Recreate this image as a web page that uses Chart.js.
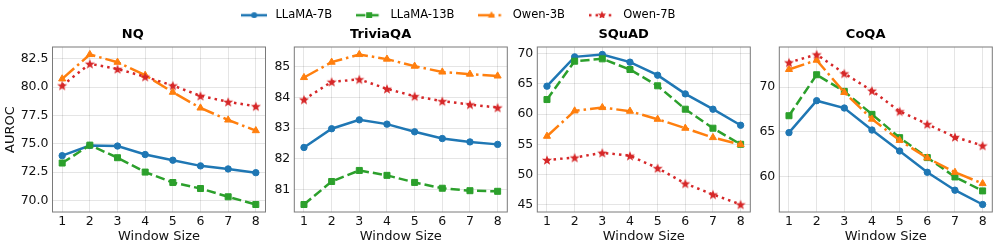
<!DOCTYPE html>
<html>
<head>
<meta charset="utf-8">
<script src="https://cdn.jsdelivr.net/npm/chart.js@4.4.0/dist/chart.umd.min.js"></script>
<style>
    html, body { margin: 0; padding: 0; background: #fff; }
    #wrap { position: relative; width: 996px; height: 248px; overflow: hidden; }
    #wrap canvas { position: absolute; }
</style>
</head>
<body>
<div id="wrap">
    <canvas id="legend" width="500" height="60"></canvas>
    <canvas id="chart1"></canvas>
    <canvas id="chart2"></canvas>
    <canvas id="chart3"></canvas>
    <canvas id="chart4"></canvas>
</div>
<script>
// ---------------- Dados ----------------
const windowSizes = [1, 2, 3, 4, 5, 6, 7, 8];
const seriesNames = ['LLaMA-7B', 'LLaMA-13B', 'Qwen-3B', 'Qwen-7B'];
const panelTitles = ['NQ', 'TriviaQA', 'SQuAD', 'CoQA'];

// NQ
const nqLlama7b  = [73.95, 74.85, 74.80, 74.05, 73.55, 73.05, 72.78, 72.45];
const nqLlama13b = [73.30, 74.88, 73.77, 72.50, 71.58, 71.05, 70.32, 69.64];
const nqQwen3b   = [80.73, 82.88, 82.20, 81.05, 79.55, 78.16, 77.10, 76.16];
const nqQwen7b   = [80.14, 82.06, 81.60, 80.92, 80.14, 79.23, 78.70, 78.31];

// TriviaQA
const tqLlama7b  = [82.37, 82.98, 83.27, 83.13, 82.88, 82.66, 82.55, 82.47];
const tqLlama13b = [80.51, 81.26, 81.62, 81.46, 81.23, 81.04, 80.96, 80.94];
const tqQwen3b   = [84.65, 85.15, 85.40, 85.25, 85.02, 84.83, 84.76, 84.70];
const tqQwen7b   = [83.93, 84.51, 84.59, 84.28, 84.04, 83.88, 83.77, 83.67];

// SQuAD
const sqLlama7b  = [64.64, 69.50, 69.89, 68.62, 66.46, 63.36, 60.82, 58.16];
const sqLlama13b = [62.42, 68.78, 69.17, 67.40, 64.70, 60.82, 57.67, 55.00];
const sqQwen3b   = [56.34, 60.54, 61.10, 60.49, 59.16, 57.67, 56.12, 54.96];
const sqQwen7b   = [52.40, 52.80, 53.60, 53.10, 51.05, 48.50, 46.68, 45.02];

// CoQA
const cqLlama7b  = [64.91, 68.48, 67.66, 65.20, 62.86, 60.48, 58.48, 56.88];
const cqLlama13b = [66.80, 71.38, 69.52, 66.95, 64.35, 62.12, 59.96, 58.40];
const cqQwen3b   = [71.97, 73.01, 69.40, 66.42, 64.05, 62.08, 60.48, 59.22];
const cqQwen7b   = [72.75, 73.64, 71.52, 69.59, 67.29, 65.86, 64.42, 63.46];

// Ticks do eixo y
const nqTicks = [70, 72.5, 75, 77.5, 80, 82.5];
const tqTicks = [81, 82, 83, 84, 85];
const sqTicks = [45, 50, 55, 60, 65, 70];
const cqTicks = [60, 65, 70];
const yDecimals = [1, 0, 0, 0];

const panelSeries = [
    [nqLlama7b, nqLlama13b, nqQwen3b, nqQwen7b],
    [tqLlama7b, tqLlama13b, tqQwen3b, tqQwen7b],
    [sqLlama7b, sqLlama13b, sqQwen3b, sqQwen7b],
    [cqLlama7b, cqLlama13b, cqQwen3b, cqQwen7b],
];
const panelTicks = [nqTicks, tqTicks, sqTicks, cqTicks];
//-----------------------------------------

// ---------------- Estilos ----------------
const colors = ['#1f77b4', '#2ca02c', '#ff7f0e', '#d62728'];
const dashes = [[], [9.25, 4], [16, 4, 2.5, 4], [2.5, 4.1]];
const markers = ['circle', 'rect', 'triangle', 'star'];
const pointRadii = [3.2, 4.25, 4.1, 4.5];

const plotLefts = [52.5, 294.3, 537.3, 779.3];
const canvasLefts = [0, 254, 497, 739];
const plotWidth = 213;

Chart.defaults.font.family = "'DejaVu Sans', sans-serif";
Chart.defaults.color = '#111';

// Desenha um marcador pequeno (usado na legenda e na estrela)
function drawMarker(g, kind, x, y, color, scale) {
    const k0 = scale || 1;
    g.fillStyle = color;
    g.beginPath();
    if (kind === 'circle') {
        g.arc(x, y, 3 * k0, 0, Math.PI * 2);
    } else if (kind === 'rect') {
        g.rect(x - 3 * k0, y - 3 * k0, 6 * k0, 6 * k0);
    } else if (kind === 'triangle') {
        g.moveTo(x, y - 4 * k0);
        g.lineTo(x + 3.6 * k0, y + 2.5 * k0);
        g.lineTo(x - 3.6 * k0, y + 2.5 * k0);
    } else {
        for (let k = 0; k < 10; k++) {
            const r = (k % 2 ? 1.9 : 4.6) * k0;
            const a = -Math.PI / 2 + k * Math.PI / 5;
            g.lineTo(x + r * Math.cos(a), y + r * Math.sin(a));
        }
    }
    g.closePath();
    g.fill();
}

function makeStar(color) {
    const c = document.createElement('canvas');
    c.width = 12; c.height = 12;
    drawMarker(c.getContext('2d'), 'star', 6, 6.5, color, 1.15);
    return c;
}

function makeSample(i) {
    const c = document.createElement('canvas');
    c.width = 26; c.height = 12;
    const g = c.getContext('2d');
    g.strokeStyle = colors[i];
    g.lineWidth = 2.5;
    g.setLineDash(dashes[i]);
    g.beginPath();
    g.moveTo(0, 6);
    g.lineTo(26, 6);
    g.stroke();
    g.setLineDash([]);
    drawMarker(g, markers[i], 13, 6, colors[i]);
    return c;
}

const starImg = makeStar(colors[3]);
const pointStyles = ['circle', 'rect', 'triangle', starImg];

// Moldura cinza em volta da área do gráfico
const framePlugin = {
    id: 'frame',
    afterDraw(chart) {
        const { ctx, chartArea: a } = chart;
        ctx.save();
        ctx.strokeStyle = '#7a7a7a';
        ctx.lineWidth = 1;
        ctx.strokeRect(a.left, a.top, a.right - a.left, a.bottom - a.top);
        ctx.restore();
    }
};

// ---------------- Legenda ----------------
const legendCanvas = document.getElementById('legend');
legendCanvas.style.left = '207px';
legendCanvas.style.top = '-12px';
const legendImgs = seriesNames.map((n, i) => makeSample(i));

new Chart(legendCanvas, {
    type: 'line',
    data: { datasets: seriesNames.map((n, i) => ({ label: n, data: [] })) },
    options: {
        responsive: false,
        animation: false,
        events: [],
        scales: { x: { display: false }, y: { display: false } },
        plugins: {
            tooltip: { enabled: false },
            legend: {
                position: 'top',
                labels: {
                    usePointStyle: true,
                    pointStyleWidth: 31,
                    padding: 21.5,
                    font: { size: 11.5 },
                    generateLabels: () => seriesNames.map((n, i) => ({
                        text: n,
                        pointStyle: legendImgs[i],
                        fillStyle: colors[i],
                        strokeStyle: colors[i],
                        lineWidth: 0,
                        hidden: false,
                        datasetIndex: i
                    }))
                }
            }
        }
    }
});

// ---------------- Painéis ----------------
panelTitles.forEach(function (title, p) {
    const canvas = document.getElementById('chart' + (p + 1));
    const yw = plotLefts[p] - canvasLefts[p];
    canvas.width = Math.ceil(yw + plotWidth + 5);
    canvas.height = 224;
    canvas.style.left = canvasLefts[p] + 'px';
    canvas.style.top = '24px';

    const series = panelSeries[p];
    const all = series.flat();
    const lo = Math.min(...all), hi = Math.max(...all);
    const margin = (hi - lo) * 0.05;

    new Chart(canvas, {
        type: 'line',
        data: {
            datasets: series.map((vals, s) => ({
                label: seriesNames[s],
                data: windowSizes.map((w, k) => ({ x: w, y: vals[k] })),
                borderColor: colors[s],
                backgroundColor: colors[s],
                borderWidth: 2.5,
                borderDash: dashes[s],
                pointStyle: pointStyles[s],
                pointRadius: pointRadii[s],
                pointBorderWidth: 1,
                pointBorderColor: colors[s],
                pointBackgroundColor: colors[s],
                order: 3 - s,
                fill: false
            }))
        },
        options: {
            responsive: false,
            animation: false,
            events: [],
            layout: { padding: { top: 0, right: canvas.width - yw - plotWidth, bottom: 0, left: 0 } },
            scales: {
                x: {
                    type: 'linear',
                    min: 0.65,
                    max: 8.35,
                    afterBuildTicks: axis => { axis.ticks = windowSizes.map(v => ({ value: v })); },
                    afterFit: axis => { axis.height = 36; },
                    grid: { color: 'rgba(0,0,0,0.13)', lineWidth: 0.8, borderDash: [3, 2], drawTicks: false },
                    border: { display: false },
                    ticks: { autoSkip: false, maxRotation: 0, padding: 2.5, font: { size: 12.5 } },
                    title: { display: true, text: 'Window Size', font: { size: 13 }, padding: { top: 0, bottom: 4 } }
                },
                y: {
                    min: lo - margin,
                    max: hi + margin,
                    afterBuildTicks: axis => { axis.ticks = panelTicks[p].map(v => ({ value: v })); },
                    afterFit: axis => { axis.width = yw; },
                    grid: { color: 'rgba(0,0,0,0.13)', lineWidth: 0.8, borderDash: [3, 2], drawTicks: false },
                    border: { display: false },
                    ticks: {
                        padding: 4,
                        font: { size: 12.5 },
                        callback: v => v.toFixed(yDecimals[p])
                    },
                    title: { display: p === 0, text: 'AUROC', font: { size: 13 }, padding: { top: 2.5, bottom: 0 } }
                }
            },
            plugins: {
                legend: { display: false },
                tooltip: { enabled: false },
                title: {
                    display: true,
                    text: title,
                    color: '#000',
                    font: { size: 13, weight: 'bold' },
                    padding: { top: 2.5, bottom: 4.9 }
                }
            }
        },
        plugins: [framePlugin]
    });
});
</script>
</body>
</html>
